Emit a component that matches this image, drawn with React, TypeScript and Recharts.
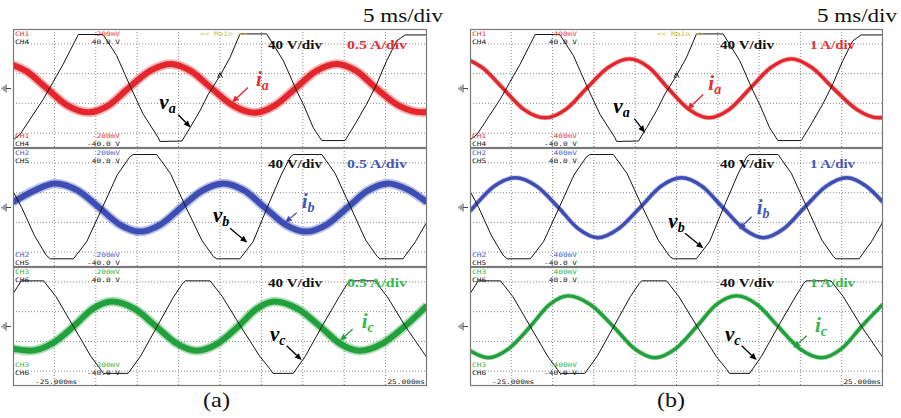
import React from "react";
import { LineChart, Line, XAxis, YAxis, CartesianGrid, ReferenceLine, ReferenceDot } from "recharts";

// ---------- axes (time in ms, amplitude in scope divisions) ----------
const TIME_TICKS = [-20, -15, -10, -5, 0, 5, 10, 15, 20];
const DIV_TICKS = [-3, -2, -1, 0, 1, 2, 3];

// ---------- phase voltages, 40 V/div ----------
const vaTime = [-25, -24.15, -21.34, -18.93, -17.11, -14.13, -12.48, -10.87, -9.26, -7.45, -7.25, -4.6, -3.62, -2.42, -1.41, 0, 1.21, 2.42, 5.64, 7.65, 9.26, 10.06, 11.27, 12.28, 15.1, 16.3, 17.7, 18.92, 20.13, 21.34, 22.34, 25];
const vaDiv = [-3.45, -3.09, -0.72, 1.64, 3.63, 3.63, 2.21, 0.18, -1.74, -3.31, -3.56, -3.53, -2.64, -1.5, -0.38, 0.86, 2.09, 3.67, 3.67, 1.87, -0.16, -1.06, -2.64, -3.5, -3.5, -2.41, -1.06, 0.29, 1.87, 3.2, 3.6, 3.6];

const vbTime = [-25, -23.95, -22.4, -21.0, -20.5, -17.7, -16.1, -14.2, -12.4, -10.9, -10.5, -7.65, -6.0, -4.1, -2.2, -0.8, -0.4, 2.4, 4.0, 5.7, 7.4, 8.5, 8.85, 12.3, 13.9, 15.8, 17.6, 19.0, 19.3, 22.1, 23.6, 25];
const vbDiv = [1.1, 0, -1.9, -3.2, -3.45, -3.45, -2.3, 0, 2.2, 3.4, 3.56, 3.56, 2.3, 0, -2.2, -3.3, -3.45, -3.45, -2.3, 0, 2.2, 3.4, 3.56, 3.56, 2.3, 0, -2.2, -3.3, -3.45, -3.45, -2.3, -0.95];

const vcTime = [-25, -24.0, -21.3, -19.8, -17.7, -15.6, -14.4, -14.1, -11.1, -9.6, -7.6, -5.6, -4.5, -4.2, -1.2, 0.3, 2.5, 4.8, 6.1, 6.4, 8.85, 10.3, 12.3, 14.4, 15.4, 15.7, 18.7, 20.2, 22.4, 24.5, 25];
const vcDiv = [2.2, 3.07, 3.07, 2.0, 0, -2.0, -2.9, -3.15, -3.15, -2.0, 0, 2.0, 2.9, 3.07, 3.07, 2.0, 0, -2.0, -2.9, -3.15, -3.15, -2.0, 0, 2.0, 2.9, 3.07, 3.07, 2.0, 0, -1.7, -2.1];

// ---------- phase currents, panel (a): 0.5 A/div ----------
const iaATime = [-25, -23.4, -20.9, -18.4, -15.9, -13.5, -11.1, -8.5, -6.0, -3.5, -1.0, 1.6, 4.2, 6.6, 9.1, 11.6, 14.1, 16.5, 18.9, 21.6, 24.4, 25];
const iaADiv = [1.58, 1.17, 0, -1.15, -1.6, -1.15, 0, 1.17, 1.65, 1.17, 0, -1.15, -1.63, -1.15, 0, 1.17, 1.65, 1.17, 0, -1.15, -1.6, -1.58];

const ibATime = [-25, -22.4, -19.9, -17.2, -14.6, -12.1, -9.7, -7.2, -4.7, -2.1, 0.4, 2.9, 5.4, 7.9, 10.4, 12.9, 15.4, 17.9, 20.3, 22.7, 25];
const ibADiv = [0.35, 1.15, 1.62, 1.15, 0, -1.15, -1.62, -1.15, 0, 1.15, 1.62, 1.15, 0, -1.15, -1.62, -1.15, 0, 1.15, 1.62, 1.2, 0.35];

const icATime = [-25, -22.9, -20.3, -17.7, -15.4, -13.0, -10.3, -7.7, -5.2, -2.8, -0.3, 2.2, 4.4, 6.6, 9.4, 12.1, 14.5, 16.9, 19.6, 22.3, 25];
const icADiv = [-1.5, -1.63, -1.15, 0, 1.18, 1.68, 1.18, 0, -1.15, -1.63, -1.15, 0, 1.18, 1.68, 1.18, 0, -1.15, -1.63, -1.15, 0, 1.4];

// ---------- phase currents, panel (b): 1 A/div ----------
const iaBTime = [-25, -23.5, -21.0, -18.5, -15.9, -13.4, -10.9, -8.3, -5.7, -3.3, -1.0, 1.5, 3.9, 6.4, 8.9, 11.4, 13.9, 16.4, 19.0, 21.8, 24.4, 25];
const iaBDiv = [1.88, 1.4, 0, -1.4, -1.97, -1.4, 0, 1.4, 1.99, 1.4, 0, -1.4, -1.97, -1.4, 0, 1.4, 1.99, 1.4, 0, -1.4, -1.97, -1.95];

const ibBTime = [-25, -24.6, -22.1, -19.5, -16.9, -14.3, -11.9, -9.5, -7.0, -4.4, -1.9, 0.6, 3.1, 5.6, 8.1, 10.5, 13.0, 15.5, 18.1, 20.6, 23.0, 25];
const ibBDiv = [-0.25, 0, 1.42, 2.0, 1.42, 0, -1.42, -2.03, -1.42, 0, 1.42, 2.0, 1.42, 0, -1.42, -2.03, -1.42, 0, 1.42, 2.0, 1.42, 0.35];

const icBTime = [-25, -22.8, -20.3, -17.7, -15.4, -13.1, -10.4, -7.65, -5.1, -2.6, -0.1, 2.45, 4.8, 7.3, 9.8, 12.3, 14.9, 17.6, 20.0, 22.4, 25];
const icBDiv = [-1.63, -2.1, -1.48, 0, 1.46, 2.06, 1.46, 0, -1.48, -2.1, -1.48, 0, 1.46, 2.06, 1.46, 0, -1.48, -2.1, -1.48, 0, 1.5];

// ---------- labels ----------
const panelNames = ["(a)", "(b)"];
const timeScaleLabel = "5 ms/div";
const voltScaleLabel = "40 V/div";
const curScaleLabels = ["0.5 A/div", "1 A/div"];
const probeRanges = ["200mV", "400mV"];
const curChannels = ["CH1", "CH2", "CH3"];
const voltChannels = ["CH4", "CH5", "CH6"];
const phaseSubs = ["a", "b", "c"];
const timeEnds = ["-25.000ms", "25.000ms"];

// ---------- styling ----------
const SERIF = "Liberation Serif, Times New Roman, Times, serif";
const MONO = "DejaVu Sans Mono, Liberation Mono, monospace";
const CUR_COLORS = ["#e3262b", "#3c4db4", "#21a03b"];
const TXT_COLORS = ["#e3302f", "#4656b8", "#36b948"];
const CH_COLORS = ["#e84040", "#4a5cd0", "#2fb540"];

type Pt = { t: number; y: number };
const pts = (ts: number[], vs: number[]): Pt[] => ts.map((t, i) => ({ t, y: vs[i] }));

const VOLTS = [pts(vaTime, vaDiv), pts(vbTime, vbDiv), pts(vcTime, vcDiv)];
const CURRENTS = [
  [pts(iaATime, iaADiv), pts(ibATime, ibADiv), pts(icATime, icADiv)],
  [pts(iaBTime, iaBDiv), pts(ibBTime, ibBDiv), pts(icBTime, icBDiv)],
];

// annotation anchors in data coordinates (t ms, divisions)
const ANN = [
  [
    { vL: [-7.33, -1.39], vA: [-5.04, -1.77, -3.54, -2.62], iL: [4.35, 0.17], iA: [3.38, 0.07, 1.45, -0.94] },
    { vL: [-0.85, -0.95], vA: [1.21, -1.4, 3.3, -2.36], iL: [9.87, -0.05], iA: [9.26, -0.35, 7.85, -1.02] },
    { vL: [6.04, -0.96], vA: [8.05, -1.3, 9.87, -2.26], iL: [17.11, -0.07], iA: [16.03, -0.17, 14.5, -0.96] },
  ],
  [
    { vL: [-7.65, -1.68], vA: [-5.1, -2.03, -3.81, -2.97], iL: [3.85, -0.13], iA: [3.24, -0.4, 1.3, -1.41] },
    { vL: [-0.99, -1.4], vA: [1.03, -1.73, 3.25, -2.74], iL: [9.71, -0.44], iA: [9.1, -0.62, 7.56, -1.46] },
    { vL: [5.87, -0.96], vA: [7.89, -1.3, 9.7, -2.26], iL: [16.77, -0.36], iA: [15.76, -0.62, 14.14, -1.45] },
  ],
];
// trigger marker on the phase-a voltage (t = 0)
const TRIGGER = [0, 0.86];

const PANEL_LEFT = [13, 470];
const PANEL_W = [414, 413];
const SUB_TOP = [29, 148, 267];
const SUB_H = 119;

function Arrow(props: any) {
  const { x1, y1, x2, y2, color } = props;
  if (x1 == null) return <g />;
  const ang = Math.atan2(y2 - y1, x2 - x1);
  const L = 7, W = 3;
  const bx = x2 - L * Math.cos(ang), by = y2 - L * Math.sin(ang);
  const px = -Math.sin(ang) * W, py = Math.cos(ang) * W;
  return (
    <g>
      <line x1={x1} y1={y1} x2={bx} y2={by} stroke={color} strokeWidth={1.3} />
      <polygon points={`${x2},${y2} ${bx + px},${by + py} ${bx - px},${by - py}`} fill={color} />
    </g>
  );
}

function Sym(props: any) {
  const { cx, cy, letter, sub, color } = props;
  if (cx == null) return <g />;
  return (
    <text x={cx} y={cy} fill={color} fontFamily={SERIF} fontWeight={700} fontStyle="italic" fontSize={21}>
      {letter}
      <tspan fontSize={14} dy={4}>{sub}</tspan>
    </text>
  );
}

function Trig(props: any) {
  const { cx, cy } = props;
  if (cx == null) return <g />;
  return (
    <path d={`M${cx - 2.5},${cy + 2} L${cx},${cy - 3} L${cx + 2.5},${cy + 2}`} fill="none" stroke="#111" strokeWidth={1} />
  );
}

function Mono({ x, y, text, color, anchor }: { x: number; y: number; text: string; color: string; anchor?: "start" | "end" }) {
  const len = text.length * 4.7;
  const sx = anchor === "end" ? x - len : x;
  return (
    <text x={sx} y={y} fill={color} fontFamily={MONO} fontSize={6.2} textLength={len} lengthAdjust="spacingAndGlyphs">
      {text}
    </text>
  );
}

function SubPanel({ p, s }: { p: number; s: number }) {
  const left = PANEL_LEFT[p];
  const w = PANEL_W[p];
  const top = SUB_TOP[s];
  const h = SUB_H;
  const color = CUR_COLORS[s];
  const ann = ANN[p][s];
  const cur = CURRENTS[p][s];
  const volt = VOLTS[s];
  const thick = p === 0;
  return (
    <div style={{ position: "absolute", left, top, width: w, height: h }}>
      <LineChart width={w} height={h} margin={{ top: 0, right: 0, bottom: 0, left: 0 }}>
        <CartesianGrid stroke="#8c8c8c" strokeDasharray="1 2" />
        <XAxis type="number" dataKey="t" domain={[-25, 25]} ticks={TIME_TICKS} hide allowDataOverflow />
        <YAxis type="number" dataKey="y" domain={[-4, 4]} ticks={DIV_TICKS} hide allowDataOverflow />
        <Line data={cur} dataKey="y" type="monotone" stroke={color} strokeWidth={thick ? 9.5 : 5} strokeOpacity={0.35} dot={false} isAnimationActive={false} />
        <Line data={cur} dataKey="y" type="monotone" stroke={color} strokeWidth={thick ? 6 : 3.4} dot={false} isAnimationActive={false} />
        <Line data={volt} dataKey="y" type="linear" stroke="#151515" strokeWidth={1} dot={false} isAnimationActive={false} />
        <ReferenceLine segment={[{ x: ann.vA[0], y: ann.vA[1] }, { x: ann.vA[2], y: ann.vA[3] }]} shape={(pp: any) => <Arrow {...pp} color="#000" />} ifOverflow="visible" />
        <ReferenceLine segment={[{ x: ann.iA[0], y: ann.iA[1] }, { x: ann.iA[2], y: ann.iA[3] }]} shape={(pp: any) => <Arrow {...pp} color={color} />} ifOverflow="visible" />
        <ReferenceDot x={ann.vL[0]} y={ann.vL[1]} r={1} ifOverflow="visible" shape={(pp: any) => <Sym {...pp} letter="v" sub={phaseSubs[s]} color="#000" />} />
        <ReferenceDot x={ann.iL[0]} y={ann.iL[1]} r={1} ifOverflow="visible" shape={(pp: any) => <Sym {...pp} letter="i" sub={phaseSubs[s]} color={TXT_COLORS[s]} />} />
        {s === 0 && <ReferenceDot x={TRIGGER[0]} y={TRIGGER[1]} r={1} ifOverflow="visible" shape={(pp: any) => <Trig {...pp} />} />}
      </LineChart>
      <svg width={w} height={h} style={{ position: "absolute", left: 0, top: 0, overflow: "visible", pointerEvents: "none" }}>
        <rect x={0.5} y={0.5} width={w - 1} height={h - 1} fill="none" stroke="#7a7a7a" strokeWidth={1.2} />
        <Mono x={2} y={6.5} text={curChannels[s]} color={CH_COLORS[s]} />
        <Mono x={2} y={14.8} text={voltChannels[s]} color="#222" />
        <Mono x={107} y={6.5} text={probeRanges[p]} color={CH_COLORS[s]} anchor="end" />
        <Mono x={107} y={14.8} text="40.0 V" color="#222" anchor="end" />
        {s === 0 && <Mono x={187} y={6.5} text="<< Main >>" color="#c8c23c" />}
        {s < 2 ? (
          <>
            <Mono x={2} y={108.5} text={curChannels[s]} color={CH_COLORS[s]} />
            <Mono x={2} y={117} text={voltChannels[s]} color="#222" />
            <Mono x={107} y={108.5} text={"-" + probeRanges[p]} color={CH_COLORS[s]} anchor="end" />
            <Mono x={107} y={117} text="-40.0 V" color="#222" anchor="end" />
          </>
        ) : (
          <>
            <Mono x={2} y={99.5} text={curChannels[s]} color={CH_COLORS[s]} />
            <Mono x={2} y={107.8} text={voltChannels[s]} color="#222" />
            <Mono x={107} y={99.5} text={"-" + probeRanges[p]} color={CH_COLORS[s]} anchor="end" />
            <Mono x={107} y={107.8} text="-40.0 V" color="#222" anchor="end" />
            <Mono x={22} y={116.5} text={timeEnds[0]} color="#222" />
            <Mono x={w - 2} y={116.5} text={timeEnds[1]} color="#222" anchor="end" />
          </>
        )}
        <text x={p === 0 ? 255 : 250} y={20} fill="#111" fontFamily={SERIF} fontWeight={700} fontSize={12.5} textLength={54} lengthAdjust="spacingAndGlyphs">
          {voltScaleLabel}
        </text>
        <text x={p === 0 ? 334 : 340} y={20} fill={TXT_COLORS[s]} fontFamily={SERIF} fontWeight={700} fontSize={12.5} textLength={p === 0 ? 60 : 45} lengthAdjust="spacingAndGlyphs">
          {curScaleLabels[p]}
        </text>
      </svg>
    </div>
  );
}

function Ground({ x, y }: { x: number; y: number }) {
  return (
    <g stroke="#444" strokeWidth={1}>
      <line x1={x - 5} y1={y} x2={x} y2={y} />
      <line x1={x - 5} y1={y - 4} x2={x - 5} y2={y + 4} />
      <line x1={x - 7} y1={y - 2.5} x2={x - 7} y2={y + 2.5} />
      <line x1={x - 9} y1={y - 1} x2={x - 9} y2={y + 1} />
    </g>
  );
}

export default function App() {
  return (
    <div style={{ position: "absolute", left: 0, top: 0, width: 901, height: 418, background: "#fff", overflow: "hidden" }}>
      {[0, 1].map((p) => [0, 1, 2].map((s) => <SubPanel key={`${p}-${s}`} p={p} s={s} />))}
      <svg width={901} height={418} style={{ position: "absolute", left: 0, top: 0, pointerEvents: "none" }}>
        {[0, 1].map((p) =>
          [0, 1, 2].map((s) => <Ground key={`g${p}${s}`} x={PANEL_LEFT[p] - 2} y={SUB_TOP[s] + SUB_H / 2} />)
        )}
        <text x={363} y={21.5} fontFamily={SERIF} fontSize={19} fill="#111" textLength={80} lengthAdjust="spacingAndGlyphs">{timeScaleLabel}</text>
        <text x={817} y={21.5} fontFamily={SERIF} fontSize={19} fill="#111" textLength={80} lengthAdjust="spacingAndGlyphs">{timeScaleLabel}</text>
        <text x={203} y={407} fontFamily={SERIF} fontSize={21} fill="#111" textLength={27} lengthAdjust="spacingAndGlyphs">{panelNames[0]}</text>
        <text x={657} y={407} fontFamily={SERIF} fontSize={21} fill="#111" textLength={28} lengthAdjust="spacingAndGlyphs">{panelNames[1]}</text>
      </svg>
    </div>
  );
}
